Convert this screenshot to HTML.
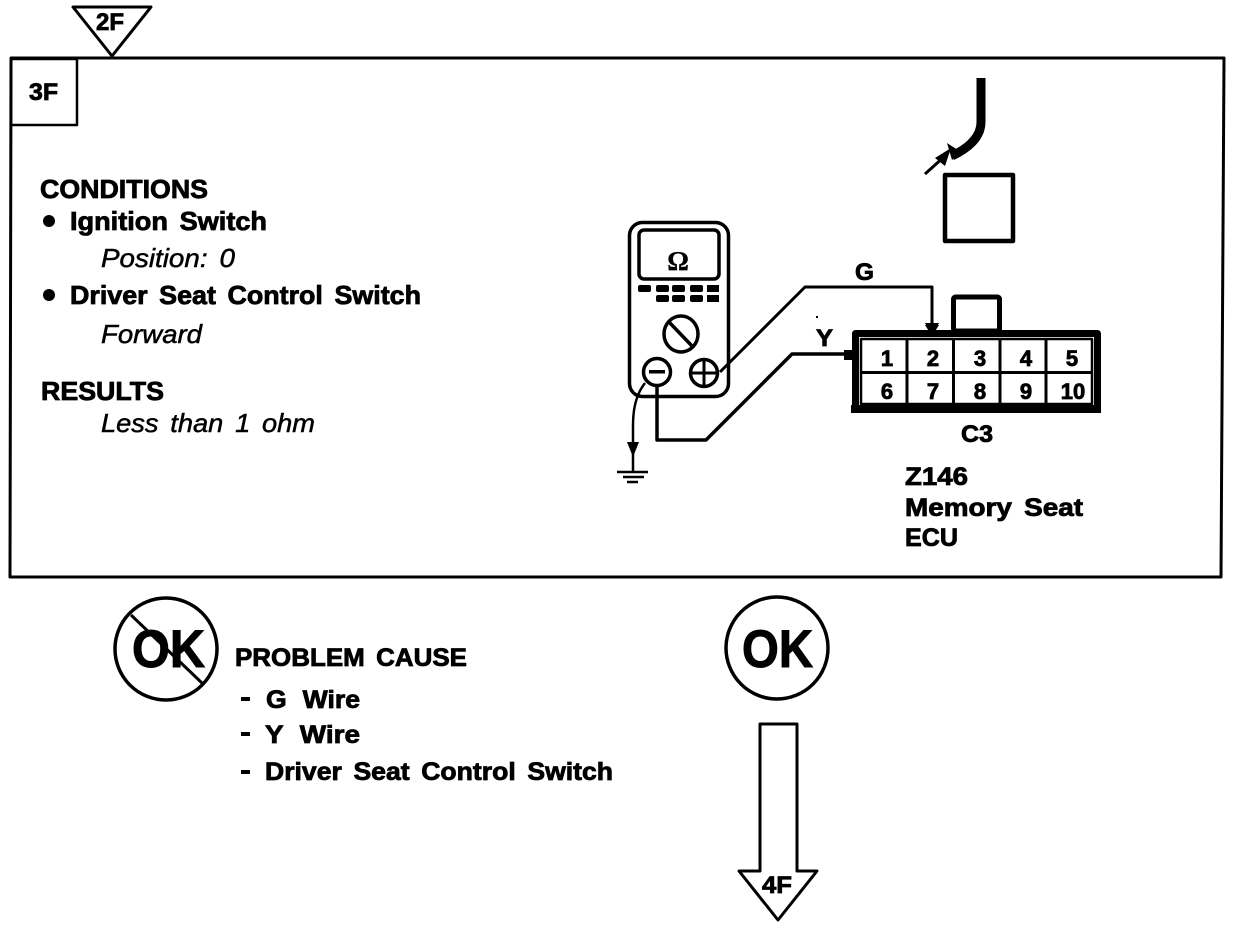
<!DOCTYPE html>
<html>
<head>
<meta charset="utf-8">
<style>
html,body{margin:0;padding:0;background:#fff;width:1248px;height:928px;overflow:hidden}
svg{display:block}
text{font-family:"Liberation Sans",sans-serif;font-weight:bold;fill:#000;stroke:#000;stroke-width:.8;font-size:26px}
.i{font-style:italic;font-weight:normal;stroke-width:.5}
.n{font-size:22px;text-anchor:middle}
.w{word-spacing:4px}
.l{fill:none;stroke:#000;stroke-linejoin:round}
</style>
</head>
<body>
<svg width="1248" height="928" viewBox="0 0 1248 928" xmlns="http://www.w3.org/2000/svg">
<rect width="1248" height="928" fill="#fff"/>

<!-- main box -->
<path class="l" d="M11,58 L1224,58 L1221,577 L10,577 Z" stroke-width="3"/>
<rect class="l" x="11" y="59" width="66" height="66" stroke-width="2.500"/>
<text x="29" y="100" textLength="29" lengthAdjust="spacingAndGlyphs" style="font-size:24px">3F</text>

<!-- 2F -->
<polygon class="l" points="73,7 151,7 112,56" stroke-width="3" fill="#fff"/>
<text x="96" y="30" textLength="28" lengthAdjust="spacingAndGlyphs" style="font-size:24px">2F</text>

<!-- left text -->
<text x="40" y="198" textLength="168" lengthAdjust="spacingAndGlyphs">CONDITIONS</text>
<circle cx="49" cy="221" r="6"/>
<text class="w" x="70" y="230" textLength="197" lengthAdjust="spacingAndGlyphs">Ignition Switch</text>
<text class="i w" x="101" y="267" textLength="134" lengthAdjust="spacingAndGlyphs">Position: 0</text>
<circle cx="49" cy="295" r="6"/>
<text class="w" x="70" y="304" textLength="351" lengthAdjust="spacingAndGlyphs">Driver Seat Control Switch</text>
<text class="i" x="101" y="343" textLength="101" lengthAdjust="spacingAndGlyphs">Forward</text>
<text x="41" y="400" textLength="123" lengthAdjust="spacingAndGlyphs">RESULTS</text>
<text class="i w" x="101" y="432" textLength="214" lengthAdjust="spacingAndGlyphs">Less than 1 ohm</text>

<!-- harness and square -->
<path class="l" d="M981,78 V122 Q981,142 952,156" stroke-width="9" style="stroke-linecap:butt"/>
<path d="M947,143 L961,152 L952,160 Z"/>
<path class="l" d="M925,174 L945,156" stroke-width="3"/>
<polygon points="935,158 951,148 945,166"/>
<rect class="l" x="945" y="175" width="68" height="66" stroke-width="4.500"/>

<!-- meter -->
<rect class="l" x="629.500" y="222.500" width="99" height="174" rx="13" stroke-width="3.500"/>
<rect class="l" x="639" y="230" width="80" height="49" rx="5" stroke-width="3.500"/>
<text x="678" y="270" style="font-size:27px;text-anchor:middle;font-family:'Liberation Serif',serif;stroke-width:.3">Ω</text>
<g>
<rect x="638" y="285" width="13" height="7" rx="2"/>
<rect x="656" y="285" width="13" height="7" rx="2"/>
<rect x="672" y="285" width="13" height="7" rx="2"/>
<rect x="690" y="285" width="13" height="7" rx="2"/>
<rect x="707" y="285" width="12" height="7"/>
<rect x="656" y="295" width="13" height="7" rx="2"/>
<rect x="672" y="295" width="13" height="7" rx="2"/>
<rect x="690" y="295" width="13" height="7" rx="2"/>
<rect x="707" y="295" width="12" height="7"/>
</g>
<ellipse class="l" cx="681" cy="334" rx="17" ry="18" stroke-width="3.500" fill="#fff"/>
<line class="l" x1="669" y1="322" x2="692" y2="346" stroke-width="3.500"/>

<!-- wires -->
<path class="l" d="M720,372 L805,287 H932 V330" stroke-width="3"/>
<polygon points="925,323 939,323 932,336"/>
<path class="l" d="M657,387 V440 H706 L792,354 H848" stroke-width="3.500"/>
<rect x="844" y="350" width="14" height="10"/>
<path class="l" d="M645,383 Q633,398 633,425 V472" stroke-width="2.500"/>
<polygon points="627,442 639,442 633,457"/>
<line class="l" x1="617" y1="472" x2="648" y2="472" stroke-width="2.500"/>
<line class="l" x1="623" y1="477" x2="644" y2="477" stroke-width="2.500"/>
<line class="l" x1="627" y1="482" x2="638" y2="482" stroke-width="2.500"/>

<circle class="l" cx="657" cy="372" r="13.500" stroke-width="3.500" fill="#fff"/>
<rect x="649" y="370" width="16" height="3.500"/>
<circle class="l" cx="704" cy="373" r="13.500" stroke-width="3.500" fill="#fff"/>
<path class="l" d="M691,373 H717 M704,360 V386" stroke-width="3"/>

<text x="855" y="280" textLength="19" lengthAdjust="spacingAndGlyphs" style="font-size:24px">G</text>
<text x="816" y="346" textLength="17" lengthAdjust="spacingAndGlyphs" style="font-size:24px">Y</text>
<rect x="816" y="316" width="2" height="2"/>

<!-- connector -->
<rect class="l" x="953.500" y="297" width="46" height="34" rx="2" stroke-width="5"/>
<rect class="l" x="855.500" y="333.500" width="242" height="76" stroke-width="7"/>
<rect x="851" y="405" width="250" height="8"/>
<rect class="l" x="861" y="339" width="231" height="65" stroke-width="2.500"/>
<path class="l" d="M861,372.500 H1092 M907,339 V404 M953.500,339 V404 M1000,339 V404 M1046,339 V404" stroke-width="3"/>
<polygon points="925,325 939,325 932,336"/>
<text class="n" x="887" y="366">1</text>
<text class="n" x="933" y="366">2</text>
<text class="n" x="980" y="366">3</text>
<text class="n" x="1026" y="366">4</text>
<text class="n" x="1072" y="366">5</text>
<text class="n" x="887" y="399">6</text>
<text class="n" x="933" y="399">7</text>
<text class="n" x="980" y="399">8</text>
<text class="n" x="1026" y="399">9</text>
<text class="n" x="1073" y="399">10</text>

<text x="961" y="442" textLength="32" lengthAdjust="spacingAndGlyphs" style="font-size:24px">C3</text>
<text x="905" y="485" textLength="63" lengthAdjust="spacingAndGlyphs" style="font-size:25px">Z146</text>
<text class="w" x="905" y="516" textLength="178" lengthAdjust="spacingAndGlyphs" style="font-size:25px">Memory Seat</text>
<text x="905" y="546" textLength="53" lengthAdjust="spacingAndGlyphs" style="font-size:25px">ECU</text>

<!-- NOT OK -->
<circle class="l" cx="166" cy="649" r="51" stroke-width="3.500"/>
<text x="132" y="667" textLength="73" lengthAdjust="spacingAndGlyphs" style="font-size:53px;stroke-width:1">OK</text>
<line class="l" x1="131" y1="615" x2="203" y2="684" stroke-width="3"/>

<text class="w" x="235" y="666" textLength="232" lengthAdjust="spacingAndGlyphs" style="font-size:25px">PROBLEM CAUSE</text>
<rect x="241" y="697" width="9" height="4"/>
<text class="w" x="266" y="708" textLength="94" lengthAdjust="spacingAndGlyphs" style="font-size:25px;word-spacing:8px">G Wire</text>
<rect x="241" y="732" width="9" height="4"/>
<text class="w" x="265" y="743" textLength="95" lengthAdjust="spacingAndGlyphs" style="font-size:25px;word-spacing:8px">Y Wire</text>
<rect x="241" y="770" width="9" height="4"/>
<text class="w" x="265" y="780" textLength="348" lengthAdjust="spacingAndGlyphs" style="font-size:25px">Driver Seat Control Switch</text>

<!-- OK -->
<circle class="l" cx="777" cy="648" r="51" stroke-width="3.500"/>
<text x="742" y="667" textLength="71" lengthAdjust="spacingAndGlyphs" style="font-size:53px;stroke-width:1">OK</text>

<!-- arrow -->
<polygon class="l" points="760,724 797,724 797,871 817,871 778,920 739,871 760,871" stroke-width="3"/>
<text x="762" y="893" textLength="30" lengthAdjust="spacingAndGlyphs" style="font-size:24px">4F</text>
</svg>
</body>
</html>
